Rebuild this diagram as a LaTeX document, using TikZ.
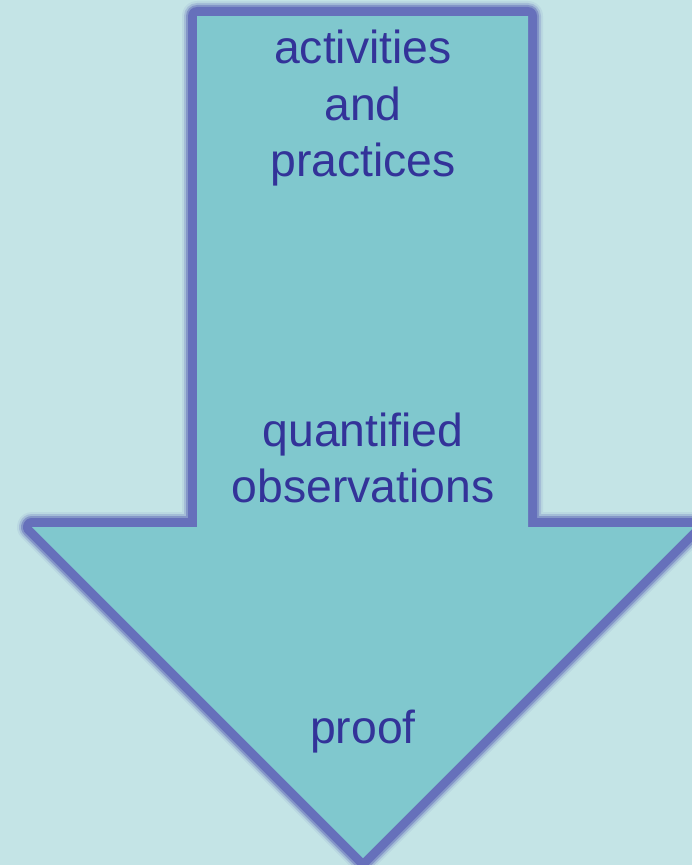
\documentclass[tikz,border=0pt]{standalone}
\usepackage{fontspec}
\setmainfont{Liberation Sans}
\definecolor{bgcyan}{RGB}{196,228,230}
\definecolor{arrowfill}{RGB}{128,200,206}
\definecolor{glowblue}{RGB}{102,112,187}
\definecolor{labelblue}{RGB}{51,51,153}
\tikzset{
    stagetext/.style={text=labelblue, font=\fontsize{46.5}{56}\selectfont, inner sep=0pt},
    arrowglow/.style={glowblue, line join=round}
}
\begin{document}
\begin{tikzpicture}[x=1bp,y=-1bp]
    \useasboundingbox (0,0) rectangle (692,865);
    \clip (0,0) rectangle (692,865);
    \fill[bgcyan] (0,0) rectangle (692,865);

    % Arrow corners
    \coordinate (shaftTL) at (197,16);
    \coordinate (shaftTR) at (528,16);
    \coordinate (wingR) at (694,527);
    \coordinate (wingRin) at (528,527);
    \coordinate (wingLin) at (197,527);
    \coordinate (wingL) at (32,527);
    \coordinate (tip) at (363,858);

    % Glow
    \foreach \w/\o in {30/0.1,26/0.25,22/0.5,18/1} {
        \draw[arrowglow, line width=\w bp, opacity=\o]
            (shaftTL) -- (shaftTR) -- (wingRin) -- (wingR) -- (tip) -- (wingL) -- (wingLin) -- cycle;
    }
    \fill[arrowfill]
        (shaftTL) -- (shaftTR) -- (wingRin) -- (wingR) -- (tip) -- (wingL) -- (wingLin) -- cycle;

    % Labels
    \foreach \t/\y [count=\k] in {
            activities/63,and/120,
            practices/176,
            quantified/446,observations/502,
            proof/743
            } {
        \node[stagetext, anchor=base] (line\k) at (363,\y) {\t};
    }
\end{tikzpicture}
\end{document}
